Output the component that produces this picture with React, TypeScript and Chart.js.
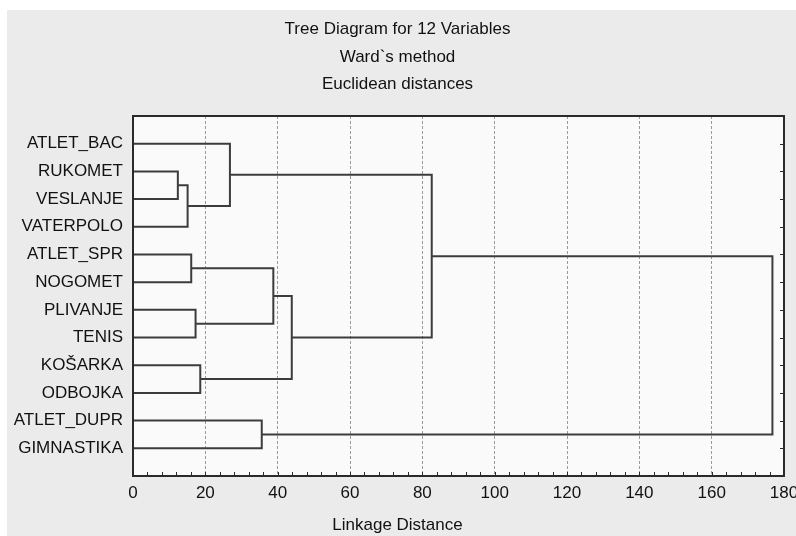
import React, { useEffect, useRef } from "react";
import { Chart, registerables } from "chart.js";

Chart.register(...registerables);

// ---- data ----
const titleLines = ["Tree Diagram for 12 Variables", "Ward`s method", "Euclidean distances"];
const xAxisTitle = "Linkage Distance";
const leafLabels = [
  "ATLET_BAC",
  "RUKOMET",
  "VESLANJE",
  "VATERPOLO",
  "ATLET_SPR",
  "NOGOMET",
  "PLIVANJE",
  "TENIS",
  "KOŠARKA",
  "ODBOJKA",
  "ATLET_DUPR",
  "GIMNASTIKA",
];
// merges (node ids: 0..11 leaves, 12+ merged clusters in order)
const mergeLeft = [1, 12, 0, 4, 6, 15, 8, 17, 14, 10, 20];
const mergeRight = [2, 3, 13, 5, 7, 16, 9, 18, 19, 11, 21];
const mergeHeight = [12.4, 15.1, 26.8, 16.1, 17.3, 38.8, 18.6, 43.9, 82.6, 35.6, 176.8];
const xTickMin = 0;
const xTickMax = 180;
const xTickStep = 20;
const xMinorStep = 4;

const FONT = "'Liberation Sans', Arial, Helvetica, sans-serif";
const TEXT = "#111111";
const LINE = "#3c3c3c";

const framePlugin = {
  id: "frame",
  beforeDraw(chart: any) {
    const { ctx, chartArea: a } = chart;
    ctx.save();
    ctx.fillStyle = "#fafafa";
    ctx.fillRect(a.left, a.top, a.right - a.left, a.bottom - a.top);
    ctx.restore();
  },
  afterDatasetsDraw(chart: any) {
    const { ctx, chartArea: a } = chart;
    const xs = chart.scales.x;
    const ys = chart.scales.y;
    ctx.save();
    ctx.strokeStyle = "#2a2a2a";
    ctx.lineWidth = 1;
    ctx.beginPath();
    for (let v = xTickMin; v <= xTickMax; v += xMinorStep) {
      const px = Math.round(xs.getPixelForValue(v)) + 0.5;
      ctx.moveTo(px, a.bottom);
      ctx.lineTo(px, a.bottom - 4);
    }
    leafLabels.forEach((_, i) => {
      const py = Math.round(ys.getPixelForValue(i + 1)) + 0.5;
      ctx.moveTo(a.right, py);
      ctx.lineTo(a.right - 4, py);
    });
    ctx.stroke();
    ctx.lineWidth = 2;
    ctx.strokeRect(a.left, a.top, a.right - a.left, a.bottom - a.top);
    ctx.restore();
  },
};

export default function App() {
  const ref = useRef<HTMLCanvasElement>(null);

  useEffect(() => {
    const n = leafLabels.length;
    const pos = (id: number): { x: number; y: number } => {
      if (id < n) return { x: 0, y: id + 1 };
      const k = id - n;
      const l = pos(mergeLeft[k]);
      const r = pos(mergeRight[k]);
      return { x: mergeHeight[k], y: (l.y + r.y) / 2 };
    };

    const datasets = mergeHeight.map((h, k) => {
      const l = pos(mergeLeft[k]);
      const r = pos(mergeRight[k]);
      return {
        label: "link" + k,
        data: [
          { x: l.x, y: l.y },
          { x: h, y: l.y },
          { x: h, y: r.y },
          { x: r.x, y: r.y },
        ],
        showLine: true,
        borderColor: LINE,
        borderWidth: 2,
        pointRadius: 0,
        tension: 0,
        fill: false,
      };
    });

    const chart = new Chart(ref.current as HTMLCanvasElement, {
      type: "scatter",
      data: { datasets } as any,
      options: {
        animation: false,
        responsive: false,
        events: [],
        layout: { padding: { left: 4, right: 23, top: 0, bottom: 0 } },
        plugins: {
          legend: { display: false },
          tooltip: { enabled: false },
          title: {
            display: true,
            text: titleLines,
            color: TEXT,
            font: { family: FONT, size: 17, weight: "normal", lineHeight: 1.6176 },
            padding: { top: 5.8, bottom: 17.7 },
          },
          subtitle: {
            display: true,
            position: "bottom",
            text: xAxisTitle,
            color: TEXT,
            font: { family: FONT, size: 17, weight: "normal", lineHeight: 1.2 },
            padding: { top: 10.4, bottom: 0 },
          },
        },
        scales: {
          x: {
            type: "linear",
            min: xTickMin,
            max: xTickMax,
            ticks: {
              stepSize: xTickStep,
              autoSkip: false,
              maxRotation: 0,
              padding: 7.5,
              color: TEXT,
              font: { family: FONT, size: 17 },
            },
            grid: {
              drawTicks: false,
              lineWidth: 1,
              color: (ctx: any) =>
                ctx.tick && (ctx.tick.value === xTickMin || ctx.tick.value === xTickMax)
                  ? "rgba(0,0,0,0)"
                  : "#9a9a9a",
            },
            border: { display: false, dash: [3, 2] },
            afterFit: (s: any) => {
              s.height = 29.2;
            },
          },
          y: {
            type: "linear",
            reverse: true,
            min: 0,
            max: n + 1,
            afterBuildTicks: (s: any) => {
              s.ticks = leafLabels.map((_, i) => ({ value: i + 1 }));
            },
            ticks: {
              autoSkip: false,
              padding: 10,
              color: TEXT,
              font: { family: FONT, size: 17 },
              callback: (v: any) => leafLabels[Number(v) - 1] ?? "",
            },
            grid: { display: false, drawTicks: false },
            border: { display: false },
            afterFit: (s: any) => {
              s.width = 122;
            },
          },
        },
      } as any,
      plugins: [framePlugin],
    });
    return () => chart.destroy();
  }, []);

  return (
    <div
      style={{
        position: "fixed",
        left: 7,
        top: 10,
        width: 800,
        height: 526,
        background: "#ebebeb",
        overflow: "hidden",
      }}
    >
      <canvas ref={ref} width={800} height={526} style={{ display: "block" }} />
    </div>
  );
}
